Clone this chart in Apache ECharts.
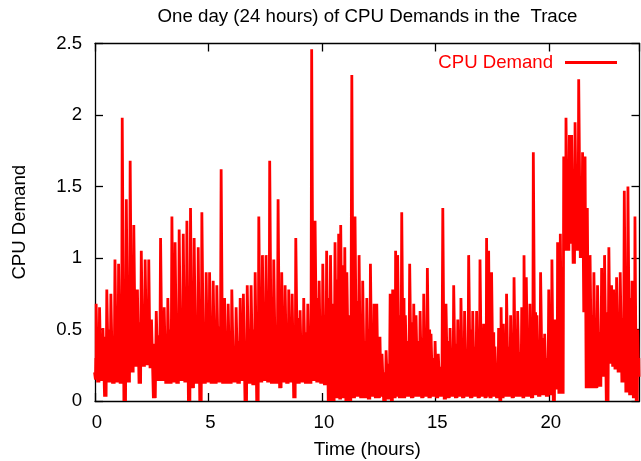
<!DOCTYPE html>
<html>
<head>
<meta charset="utf-8">
<style>
  html, body { margin: 0; padding: 0; background: #fff; }
  #chart { width: 641px; height: 461px; }
</style>
<script src="https://cdn.jsdelivr.net/npm/echarts@6/dist/echarts.min.js"></script>
</head>
<body>
<div id="chart"></div>
<script>
  // Hour of each spike, its top, the dip after it,
  // and the height of the solid band between spikes
  const hours = [
    0, 0.07, 0.22, 0.37, 0.54, 0.72, 0.90, 1.06, 1.22, 1.40, 1.57,
    1.73, 1.89, 2.06, 2.23, 2.39, 2.51, 2.72, 2.91, 3.07, 3.23,
    3.41, 3.55, 3.73, 3.91, 4.07, 4.23, 4.39, 4.57, 4.73, 4.92,
    5.07, 5.23, 5.39, 5.58, 5.73, 5.89, 6.05, 6.24, 6.42, 6.56,
    6.73, 6.90, 7.08, 7.24, 7.40, 7.56, 7.72, 7.90, 8.09,
    8.25, 8.40, 8.56, 8.71, 8.87, 9.06, 9.22, 9.40, 9.57, 9.72,
    9.90, 10.06, 10.23, 10.40, 10.60, 10.76, 10.85, 11.03, 11.12, 11.34,
    11.48, 11.66, 11.82, 12.00, 12.16, 12.32, 12.44, 12.58, 12.67, 12.85,
    13.03, 13.14, 13.27, 13.36, 13.54, 13.70, 13.89, 14.07, 14.17, 14.35,
    14.51, 14.67, 14.83, 15.01, 15.15, 15.35, 15.49,
    15.67, 15.83, 16.01, 16.15, 16.31, 16.49, 16.67, 16.84, 16.99, 17.15,
    17.28, 17.37, 17.50, 17.65, 17.81, 17.92, 18.02, 18.16, 18.34, 18.49,
    18.65, 18.83, 18.93, 19.03, 19.19, 19.34, 19.50, 19.66, 19.84, 20.02,
    20.16, 20.29, 20.41, 20.53, 20.68, 20.78, 20.93, 21.03, 21.18, 21.34,
    21.51, 21.62, 21.72, 21.84, 22.01, 22.17, 22.35, 22.48, 22.67, 22.79,
    22.88, 23.01, 23.17, 23.35, 23.51, 23.69, 23.82, 23.94
  ]
  const peaks = [
    0.2, 0.68, 0.655, 0.51, 0.78, 0.75, 0.99, 0.96, 1.98, 1.41, 1.68,
    1.23, 0.78, 1.05, 0.99, 0.99, 0.57, 0.63, 1.14, 0.655, 0.72,
    1.29, 1.11, 1.2, 1.17, 1.26, 1.35, 1.14, 1.075, 1.32, 0.9,
    0.9, 0.84, 0.81, 1.62, 0.72, 0.68, 0.78, 0.655, 0.72, 0.75,
    0.81, 0.81, 0.9, 1.29, 1.02, 1.02, 1.68, 0.99, 1.41,
    0.9, 0.81, 0.78, 0.75, 1.14, 0.635, 0.72, 0.68, 2.46, 1.26,
    0.84, 0.96, 1.05, 1.02, 1.11, 1.17, 1.23, 1.075, 0.9, 2.28,
    1.29, 1.02, 0.84, 0.72, 0.96, 0.68, 0.68, 0.45, 0.33, 0.355,
    0.75, 0.78, 1.05, 1.02, 1.32, 0.6, 0.96, 0.68, 0.6, 0.63,
    0.75, 0.93, 0.47, 0.42, 0.33, 1.35, 0.68,
    0.51, 0.81, 0.57, 0.72, 0.63, 1.02, 0.63, 0.63, 0.99, 0.54,
    1.14, 1.05, 0.9, 0.38, 0.51, 0.655, 0.54, 0.75, 0.6, 0.865,
    0.63, 0.655, 1.02, 0.865, 0.68, 1.74, 0.6, 0.9, 0.47, 0.78,
    0.99, 0.57, 1.11, 1.17, 1.71, 1.98, 1.86, 1.86, 1.95, 2.25,
    1.74, 1.71, 1.35, 1.02, 0.9, 0.81, 0.93, 1.02, 1.075, 0.81,
    0.78, 0.865, 0.9, 1.47, 1.5, 0.84, 1.29, 0.5
  ]
  const dips = [
    0.15, 0.13, 0.14, 0.03, 0.13, 0.12, 0.13, 0.12, 0, 0.13, 0.2,
    0.24, 0.12, 0.24, 0.25, 0.23, 0.02, 0.14, 0.14, 0.12, 0.12,
    0.13, 0.12, 0.14, 0.13, 0, 0.09, 0.12, 0, 0.12, 0.13,
    0.12, 0.12, 0.13, 0.12, 0.12, 0.12, 0.13, 0.12, 0.14, 0,
    0.12, 0.11, 0, 0.13, 0.14, 0.13, 0.12, 0.12, 0.09,
    0.13, 0.12, 0.13, 0.02, 0.12, 0.13, 0.12, 0.12, 0.14, 0.13,
    0.12, 0.11, 0, 0, 0.02, 0.01, 0.02, 0, 0, 0.02,
    0.03, 0.02, 0.02, 0.01, 0.03, 0.02, 0.02, 0.03, 0, 0.01,
    0, 0.02, 0.03, 0.02, 0.02, 0.03, 0.02, 0.03, 0.03, 0.02,
    0.03, 0.02, 0.03, 0.02, 0.03, 0.01, 0.02,
    0.03, 0.02, 0.03, 0.02, 0.03, 0.02, 0.03, 0.02, 0.03, 0.02,
    0.03, 0.02, 0.03, 0.02, 0, 0.02, 0.03, 0.03, 0.02, 0.03,
    0.03, 0.02, 0.03, 0.03, 0.02, 0.04, 0.03, 0.04, 0.03, 0.04,
    0, 0.08, 0.05, 0.05, 1.05, 1.05, 1.1, 0.96, 1.05, 1.0,
    0.62, 0.09, 0.09, 0.09, 0.09, 0.1, 0.17, 0, 0.26, 0.24,
    0.22, 0.2, 0.13, 0.06, 0.04, 0.02, 0, 0.17
  ]
  const bands = [
    0.3, 0.42, 0.38, 0.45, 0.5, 0.42, 0.52, 0.48, 0.6, 0.72, 0.68,
    0.78, 0.55, 0.62, 0.58, 0.45, 0.4, 0.46, 0.52, 0.42, 0.5,
    0.6, 0.48, 0.55, 0.5, 0.62, 0.56, 0.48, 0.58, 0.52, 0.46,
    0.5, 0.44, 0.52, 0.62, 0.4, 0.46, 0.38, 0.42, 0.45, 0.4,
    0.42, 0.5, 0.48, 0.62, 0.5, 0.46, 0.68, 0.45, 0.6,
    0.5, 0.46, 0.44, 0.5, 0.58, 0.42, 0.48, 0.46, 0.62, 0.72,
    0.52, 0.6, 0.72, 0.68, 0.85, 0.9, 0.95, 0.78, 0.6, 0.8,
    0.7, 0.45, 0.42, 0.5, 0.4, 0.36, 0.32, 0.22, 0.2, 0.26,
    0.58, 0.62, 0.68, 0.6, 0.72, 0.42, 0.55, 0.5, 0.42, 0.44,
    0.42, 0.5, 0.3, 0.28, 0.24, 0.55, 0.42,
    0.32, 0.4, 0.34, 0.42, 0.36, 0.5, 0.38, 0.34, 0.46, 0.34,
    0.52, 0.55, 0.48, 0.25, 0.3, 0.36, 0.34, 0.38, 0.3, 0.42,
    0.34, 0.36, 0.5, 0.42, 0.38, 0.62, 0.32, 0.44, 0.3, 0.36,
    0.48, 0.35, 0.6, 0.7, 1.25, 1.45, 1.4, 1.35, 1.5, 1.45,
    1.35, 1.1, 0.8, 0.6, 0.5, 0.48, 0.55, 0.62, 0.55, 0.5,
    0.48, 0.52, 0.58, 0.8, 0.72, 0.42, 0.5, 0.3
  ]

  const demand = []
  hours.forEach((h, i) => {
    const next = i + 1 < hours.length ? hours[i + 1] : 24
    const gap = next - h
    demand.push([h - 0.02, peaks[i]], [h + 0.02, peaks[i]])
    demand.push([h + gap * 0.3, dips[i]], [h + gap * 0.5, bands[i]], [h + gap * 0.7, dips[i]])
  })

  const myChart = echarts.init(document.getElementById('chart'), null, { renderer: 'canvas' })
  const font = 'Liberation Sans'
  const frame = { onZero: false, lineStyle: { color: '#000', width: 1.3 } }
  const ticks = { inside: true, length: 8, lineStyle: { color: '#000', width: 1.3 } }

  const option = {
    animation: false,
    backgroundColor: '#fff',
    title: {
      text: 'One day (24 hours) of CPU Demands in the  Trace',
      left: 362.5,
      top: 2,
      textAlign: 'center',
      textStyle: { fontFamily: font, fontSize: 18.7, fontWeight: 'normal', color: '#000' }
    },
    legend: {
      data: [{ name: 'CPU Demand', icon: 'rect' }],
      right: 19,
      top: 48,
      align: 'right',
      itemWidth: 52,
      itemHeight: 3,
      textStyle: { fontFamily: font, fontSize: 18.6, color: '#ff0000', padding: [0, 7, 0, 0] }
    },
    grid: { left: 95, right: 1.5, top: 43.5, bottom: 60, outerBoundsMode: 'none' },
    xAxis: [
      {
        type: 'value',
        min: 0,
        max: 24,
        interval: 5,
        name: 'Time (hours)',
        nameLocation: 'middle',
        nameGap: 39,
        nameTextStyle: { fontFamily: font, fontSize: 19, color: '#000' },
        axisLine: frame,
        axisTick: ticks,
        splitLine: { show: false },
        axisLabel: { fontFamily: font, fontSize: 18.6, color: '#000', margin: 12, showMaxLabel: false, padding: [0, 0, 0, 4] }
      },
      {
        type: 'value',
        position: 'top',
        min: 0,
        max: 24,
        interval: 5,
        axisLine: frame,
        axisTick: ticks,
        splitLine: { show: false },
        axisLabel: { show: false }
      }
    ],
    yAxis: [
      {
        type: 'value',
        min: 0,
        max: 2.5,
        interval: 0.5,
        name: 'CPU Demand',
        nameLocation: 'middle',
        nameGap: 66,
        nameTextStyle: { fontFamily: font, fontSize: 18.6, color: '#000' },
        axisLine: frame,
        axisTick: ticks,
        splitLine: { show: false },
        axisLabel: { fontFamily: font, fontSize: 18.6, color: '#000', margin: 13 }
      },
      {
        type: 'value',
        position: 'right',
        min: 0,
        max: 2.5,
        interval: 0.5,
        axisLine: frame,
        axisTick: ticks,
        splitLine: { show: false },
        axisLabel: { show: false }
      }
    ],
    series: [
      {
        name: 'CPU Demand',
        type: 'line',
        data: demand,
        symbol: 'none',
        clip: false,
        color: '#ff0000',
        lineStyle: { color: '#ff0000', width: 2.8, join: 'bevel' }
      }
    ]
  }

  option && myChart.setOption(option)
</script>
</body>
</html>
